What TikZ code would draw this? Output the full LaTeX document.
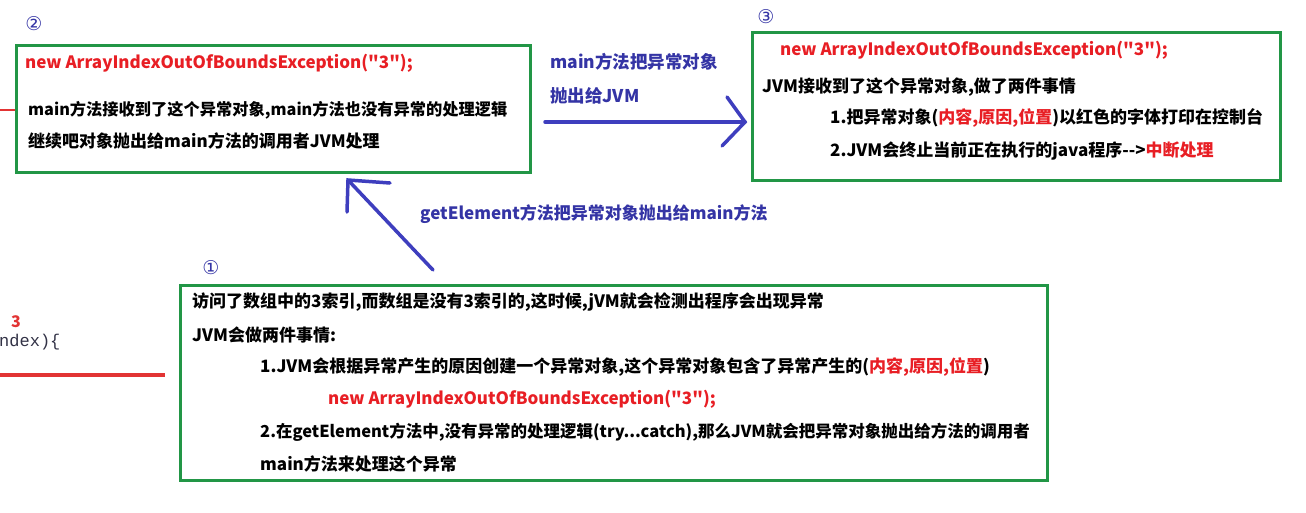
\documentclass[tikz,border=0pt]{standalone}
\usepackage{fontspec}
\setmainfont{Noto Sans CJK SC}[Ligatures=TeXOff]
\newfontfamily\circfont{DejaVu Sans}
\newfontfamily\codefont{Liberation Mono}
\definecolor{boxgreen}{RGB}{34,150,70}
\definecolor{txtred}{RGB}{232,30,36}
\definecolor{arrblue}{RGB}{62,62,190}
\definecolor{lblblue}{RGB}{52,52,165}
\definecolor{codered}{RGB}{226,52,52}
\begin{document}
\begin{tikzpicture}[x=1pt,y=-1pt,
  gbox/.style={draw=boxgreen,line width=3pt,rectangle,inner sep=0pt},
  txt/.style={anchor=west,inner sep=0pt,font=\fontsize{17}{17}\selectfont\bfseries},
  redtxt/.style={anchor=west,inner sep=0pt,text=txtred,font=\fontsize{17}{17}\selectfont\bfseries},
  lbl/.style={anchor=west,inner sep=0pt,text=lblblue,font=\fontsize{17.5}{17.5}\selectfont\bfseries},
  circ/.style={inner sep=0pt,text=lblblue,font=\circfont\fontsize{19}{19}\selectfont},
  arr/.style={draw=arrblue,line width=3.5pt,line cap=round}]
\useasboundingbox (0,0) rectangle (1306,512);
\fill[white] (0,0) rectangle (1306,512);

% left partial code
\node[anchor=west,inner sep=0pt,text=codered,font=\fontsize{16}{16}\selectfont\bfseries] (three) at (11,322) {3};
\node[anchor=west,inner sep=0pt,text={rgb,255:red,50;green,50;blue,70},font=\codefont\fontsize{17}{17}\selectfont] (ndex) at (-1,342) {ndex)\{};
\coordinate (rl1) at (0,375);
\coordinate (rl2) at (165,375);
\draw[codered,line width=4pt] (rl1) -- (rl2);
\coordinate (rl3) at (0,110);
\coordinate (rl4) at (15,110);
\draw[codered,line width=2.5pt] (rl3) -- (rl4);

% boxes
\node[gbox,minimum width=514pt,minimum height=127pt] (b2) at (273,108.5) {};
\node[gbox,minimum width=528pt,minimum height=148pt] (b3) at (1016,106) {};
\node[gbox,minimum width=867pt,minimum height=195pt] (b1) at (613.5,382.5) {};

% circled numbers
\node[circ] (c2) at (34,24) {②};
\node[circ] (c3) at (766,17) {③};
\node[circ] (c1) at (211,268) {①};

% box 2 text
\node[redtxt] (t21) at (25,63) {new ArrayIndexOutOfBoundsException("3");};
\node[txt,font=\fontsize{16.25}{16.25}\selectfont\bfseries] (t22) at (28,110) {main方法接收到了这个异常对象,main方法也没有异常的处理逻辑};
\node[txt] (t23) at (28,141) {继续吧对象抛出给main方法的调用者JVM处理};

% box 3 text
\node[redtxt] (t31) at (780,50) {new ArrayIndexOutOfBoundsException("3");};
\node[txt] (t32) at (762,87) {JVM接收到了这个异常对象,做了两件事情};
\node[txt] (t33) at (830,118) {1.把异常对象(\textcolor{txtred}{内容,原因,位置})以红色的字体打印在控制台};
\node[txt] (t34) at (830,151) {2.JVM会终止当前正在执行的java程序-->\textcolor{txtred}{中断处理}};

% box 1 text
\node[txt] (t11) at (192,302) {访问了数组中的3索引,而数组是没有3索引的,这时候,jVM就会检测出程序会出现异常};
\node[txt] (t12) at (192,335) {JVM会做两件事情:};
\node[txt] (t13) at (260,367) {1.JVM会根据异常产生的原因创建一个异常对象,这个异常对象包含了异常产生的(\textcolor{txtred}{内容,原因,位置})};
\node[redtxt] (t14) at (328,399) {new ArrayIndexOutOfBoundsException("3");};
\node[txt,font=\fontsize{16.5}{16.5}\selectfont\bfseries] (t15) at (260,432) {2.在getElement方法中,没有异常的处理逻辑(try...catch),那么JVM就会把异常对象抛出给方法的调用者};
\node[txt] (t16) at (260,464) {main方法来处理这个异常};

% labels
\node[lbl] (l1) at (550,62) {main方法把异常对象};
\node[lbl] (l2) at (550,96) {抛出给JVM};
\node[lbl,font=\fontsize{17}{17}\selectfont\bfseries] (l3) at (420,214) {getElement方法把异常对象抛出给main方法};

% arrow 2 -> 3
\coordinate (h1) at (545,122);
\coordinate (h2) at (745,122);
\coordinate (hb1) at (727,97);
\coordinate (hb2) at (722,146);
\draw[arr] (h1) -- (h2);
\draw[arr] (hb1) -- (h2) -- (hb2);

% arrow 1 -> 2
\coordinate (d1) at (433,270);
\coordinate (d2) at (348,180);
\coordinate (db1) at (390,183);
\coordinate (db2) at (347,212);
\draw[arr] (d1) -- (d2);
\draw[arr] (db1) -- (d2) -- (db2);
\end{tikzpicture}
\end{document}
